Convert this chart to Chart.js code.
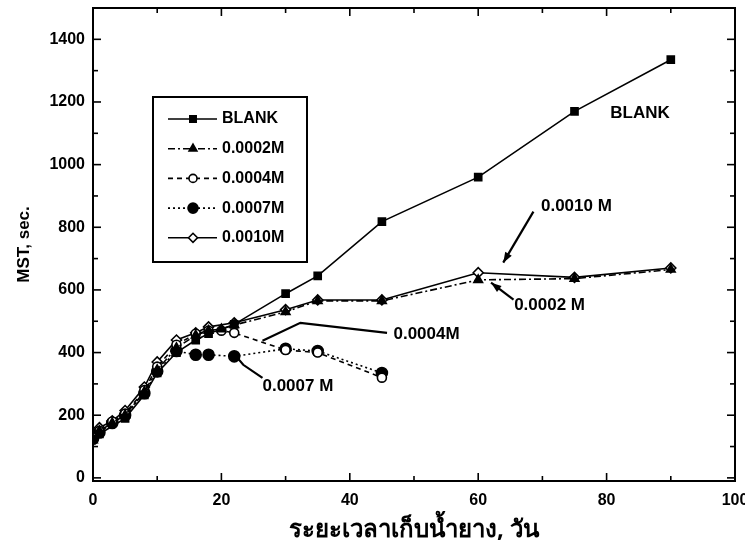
<!DOCTYPE html>
<html>
<head>
<meta charset="utf-8">
<script src="https://cdn.jsdelivr.net/npm/chart.js@4.4.0/dist/chart.umd.min.js"></script>
<style>
  html, body { margin: 0; padding: 0; background: #fff; }
  #wrap { width: 745px; height: 547px; }
</style>
</head>
<body>
<div id="wrap"><canvas id="mstChart" width="745" height="547"></canvas></div>
<script>
// storage time of the latex, days
const days = [0, 1, 3, 5, 8, 10, 13, 16, 18, 20, 22, 30, 35, 45, 60, 75, 90];

// MST, sec. for each concentration (null = not measured that day)
const blank = [125, 140, null, 190, 265, 335, 400, 440, 460, null, 490, 588, 645, 818, 960, 1170, 1335];
const m0002 = [120, 150, 175, 200, 275, 345, 415, 455, 470, 475, 488, 530, 565, 565, 632, 636, 665];
const m0004 = [130, 150, 180, 205, 280, 355, 425, 460, 470, 470, 463, 408, 400, 320, null, null, null];
const m0007 = [125, 145, 175, 200, 270, 340, 405, 393, 393, null, 388, 412, 405, 335, null, null, null];
const m0010 = [140, 160, 182, 215, 290, 370, 440, 463, 482, null, 495, 537, 568, 568, 655, 640, 670];

const seriesNames = ['BLANK', '0.0002M', '0.0004M', '0.0007M', '0.0010M'];

const xTicks = [0, 10, 20, 30, 40, 50, 60, 70, 80, 90, 100];
const yTicks = [0, 100, 200, 300, 400, 500, 600, 700, 800, 900, 1000, 1100, 1200, 1300, 1400, 1500];

const FONT = "'Liberation Sans', Arial, sans-serif";

function toPoints(vals) {
    return days.map((d, i) => ({ x: d, y: vals[i] })).filter(p => p.y !== null);
}

function makeSet(label, vals, style) {
    return Object.assign({
        label: label,
        data: toPoints(vals),
        borderColor: '#000',
        borderWidth: 1.6,
        pointBorderColor: '#000',
        pointBorderWidth: 1.6,
        tension: 0
    }, style);
}

const datasets = [
    makeSet(seriesNames[0], blank, { pointStyle: 'rect', pointRadius: 5, pointBackgroundColor: '#000' }),
    makeSet(seriesNames[1], m0002, { borderDash: [7, 3, 2, 3], pointStyle: 'triangle', pointRadius: 5, pointBackgroundColor: '#000' }),
    makeSet(seriesNames[2], m0004, { borderDash: [5, 4], pointStyle: 'circle', pointRadius: 4.5, pointBackgroundColor: '#fff' }),
    makeSet(seriesNames[3], m0007, { borderDash: [2, 3], pointStyle: 'circle', pointRadius: 5.5, pointBackgroundColor: '#000' }),
    makeSet(seriesNames[4], m0010, { pointStyle: 'rectRot', pointRadius: 5, pointBackgroundColor: '#fff' })
];

// text labels and pointers on the plot, in data units
const notes = [
    { text: 'BLANK', x: 85.2, y: 1163, align: 'center' },
    { text: '0.0010 M', x: 75.3, y: 866, align: 'center' },
    { text: '0.0002 M', x: 65.6, y: 550, align: 'left' },
    { text: '0.0004M', x: 46.8, y: 457, align: 'left' },
    { text: '0.0007 M', x: 26.4, y: 291, align: 'left' }
];
const pointers = [
    { path: [[68.6, 850], [63.9, 687]], head: true },
    { path: [[65.5, 569], [62.0, 623]], head: true },
    { path: [[45.8, 463], [32.3, 495], [26.4, 438]], head: false },
    { path: [[26.4, 319], [23.4, 361], [22.5, 383]], head: false }
];

function line(ctx, x1, y1, x2, y2) {
    ctx.beginPath();
    ctx.moveTo(x1, y1);
    ctx.lineTo(x2, y2);
    ctx.stroke();
}

const framePlugin = {
    id: 'framePlugin',
    afterDatasetsDraw(chart) {
        const { ctx, chartArea: a, scales: { x, y } } = chart;
        ctx.save();
        ctx.strokeStyle = '#000';
        ctx.setLineDash([]);
        ctx.lineWidth = 2;
        ctx.strokeRect(a.left, a.top, a.right - a.left, a.bottom - a.top);

        // inward ticks on all four sides
        ctx.lineWidth = 1.6;
        xTicks.forEach(v => {
            const px = x.getPixelForValue(v);
            const len = v % 20 === 0 ? 8 : 5;
            line(ctx, px, a.bottom, px, a.bottom - len);
            line(ctx, px, a.top, px, a.top + len);
        });
        yTicks.forEach(v => {
            const py = y.getPixelForValue(v);
            const len = v % 200 === 0 ? 8 : 5;
            line(ctx, a.left, py, a.left + len, py);
            line(ctx, a.right, py, a.right - len, py);
        });

        // annotations
        ctx.fillStyle = '#000';
        ctx.font = 'bold 17px ' + FONT;
        ctx.textBaseline = 'middle';
        notes.forEach(n => {
            ctx.textAlign = n.align;
            ctx.fillText(n.text, x.getPixelForValue(n.x), y.getPixelForValue(n.y));
        });

        ctx.lineWidth = 2.2;
        pointers.forEach(p => {
            const pts = p.path.map(q => [x.getPixelForValue(q[0]), y.getPixelForValue(q[1])]);
            ctx.beginPath();
            ctx.moveTo(pts[0][0], pts[0][1]);
            pts.slice(1).forEach(q => ctx.lineTo(q[0], q[1]));
            ctx.stroke();
            if (p.head) {
                const [x1, y1] = pts[pts.length - 2];
                const [x2, y2] = pts[pts.length - 1];
                const ang = Math.atan2(y2 - y1, x2 - x1);
                ctx.beginPath();
                ctx.moveTo(x2, y2);
                ctx.lineTo(x2 - 11 * Math.cos(ang - 0.35), y2 - 11 * Math.sin(ang - 0.35));
                ctx.lineTo(x2 - 11 * Math.cos(ang + 0.35), y2 - 11 * Math.sin(ang + 0.35));
                ctx.closePath();
                ctx.fill();
            }
        });

        // legend box
        const box = { left: 153, top: 97, right: 307, bottom: 262 };
        ctx.lineWidth = 2;
        ctx.strokeRect(box.left, box.top, box.right - box.left, box.bottom - box.top);
        ctx.font = 'bold 16px ' + FONT;
        ctx.textAlign = 'left';
        chart.data.datasets.forEach((ds, i) => {
            const cy = 119 + i * 29.7;
            ctx.strokeStyle = '#000';
            ctx.lineWidth = 1.6;
            ctx.setLineDash(ds.borderDash || []);
            line(ctx, 168, cy, 217, cy);
            ctx.setLineDash([]);
            ctx.fillStyle = ds.pointBackgroundColor;
            Chart.helpers.drawPoint(ctx, {
                pointStyle: ds.pointStyle,
                radius: ds.pointRadius - 0.5,
                rotation: 0,
                borderWidth: 1.6
            }, 193, cy);
            ctx.fillStyle = '#000';
            ctx.fillText(ds.label, 222, cy);
        });
        ctx.restore();
    }
};

const chart = new Chart(document.getElementById('mstChart'), {
    type: 'line',
    data: { datasets: datasets },
    options: {
        responsive: false,
        animation: false,
        layout: { padding: { top: 8, right: 10, left: 0, bottom: 0 } },
        plugins: {
            legend: { display: false },
            tooltip: { enabled: false }
        },
        scales: {
            x: {
                type: 'linear',
                min: 0,
                max: 100,
                afterBuildTicks: s => { s.ticks = xTicks.map(v => ({ value: v })); },
                afterFit: s => { s.height = 66; s.paddingLeft = 0; s.paddingRight = 0; },
                grid: { display: false, drawTicks: false },
                border: { display: false },
                ticks: {
                    padding: 10,
                    color: '#000',
                    font: { family: FONT, size: 16, weight: 'bold' },
                    callback: v => (v % 20 === 0 ? v : '')
                },
                title: {
                    display: true,
                    text: 'ระยะเวลาเก็บน้ำยาง, วัน',
                    color: '#000',
                    font: { family: "'Noto Sans', 'DejaVu Sans', sans-serif", size: 24, weight: 'bold' },
                    padding: { top: 0, bottom: 2 }
                }
            },
            y: {
                type: 'linear',
                min: -10,
                max: 1500,
                afterBuildTicks: s => { s.ticks = yTicks.map(v => ({ value: v })); },
                afterFit: s => { s.width = 93; s.paddingTop = 0; s.paddingBottom = 0; },
                grid: { display: false, drawTicks: false },
                border: { display: false },
                ticks: {
                    padding: 8,
                    color: '#000',
                    font: { family: FONT, size: 16, weight: 'bold' },
                    callback: v => (v % 200 === 0 && v <= 1400 ? v : '')
                },
                title: {
                    display: true,
                    text: 'MST, sec.',
                    color: '#000',
                    font: { family: FONT, size: 17, weight: 'bold' },
                    padding: { top: 14, bottom: 0 }
                }
            }
        }
    },
    plugins: [framePlugin]
});
</script>
</body>
</html>
